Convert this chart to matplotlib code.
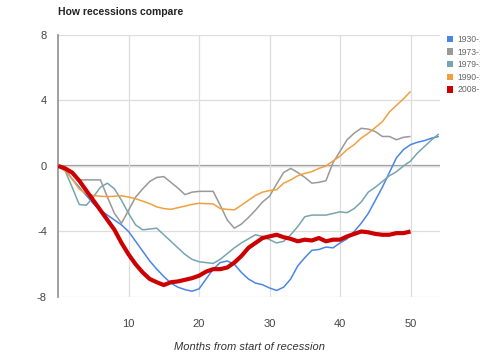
import matplotlib
matplotlib.use("Agg")
import matplotlib.pyplot as plt
from matplotlib.patches import Patch

plt.rcParams['font.family'] = ['Liberation Sans', 'DejaVu Sans']
plt.rcParams['axes.unicode_minus'] = False

# values (months from start of recession)
labels = ['1930-1933', '1973-1975', '1979-1982', '1990-1991', '2008-']
colors = ['#4a86e8', '#999999', '#76a5af', '#f1a03f', '#cc0000']

s1930 = [0, -0.2, -0.8, -1.3, -1.8, -2.3, -2.7, -3.0, -3.3, -3.6, -4.0, -4.6, -5.2, -5.8,
         -6.3, -6.75, -7.15, -7.4, -7.55, -7.65, -7.5, -6.9, -6.3, -5.9, -5.8, -6.0, -6.5,
         -6.9, -7.15, -7.25, -7.45, -7.6, -7.4, -6.9, -6.1, -5.6, -5.15, -5.1, -4.95, -5.0,
         -4.7, -4.45, -4.0, -3.5, -2.9, -2.1, -1.3, -0.4, 0.5, 1.0, 1.3, 1.45, 1.55, 1.7, 1.8]
s1973 = [0, -0.2, -0.5, -0.85, -0.85, -0.85, -0.85, -1.9, -2.9, -3.5, -2.7, -1.9, -1.4,
         -0.95, -0.7, -0.65, -1.0, -1.35, -1.75, -1.6, -1.55, -1.55, -1.55, -2.4, -3.3, -3.8,
         -3.55, -3.15, -2.7, -2.2, -1.85, -1.1, -0.4, -0.15, -0.4, -0.7, -1.05, -1.0, -0.9,
         0.2, 0.9, 1.6, 2.0, 2.3, 2.25, 2.1, 1.8, 1.8, 1.6, 1.75, 1.8]
s1979 = [0, -0.3, -1.3, -2.35, -2.4, -1.9, -1.3, -1.05, -1.4, -2.1, -2.9, -3.6, -3.9, -3.85,
         -3.8, -4.2, -4.6, -5.0, -5.4, -5.7, -5.85, -5.9, -5.95, -5.7, -5.35, -5.0, -4.7,
         -4.45, -4.2, -4.3, -4.5, -4.7, -4.6, -4.2, -3.7, -3.1, -3.0, -3.0, -3.0, -2.9, -2.8,
         -2.85, -2.6, -2.2, -1.6, -1.3, -0.95, -0.6, -0.35, 0.0, 0.3, 0.8, 1.2, 1.6, 1.95]
s1990 = [0, -0.3, -0.8, -1.4, -1.7, -1.8, -1.85, -1.87, -1.85, -1.82, -1.9, -2.0, -2.15,
         -2.3, -2.5, -2.6, -2.65, -2.55, -2.45, -2.35, -2.28, -2.3, -2.32, -2.6, -2.65, -2.68,
         -2.4, -2.1, -1.8, -1.6, -1.5, -1.45, -1.05, -0.85, -0.6, -0.45, -0.35, -0.15, 0.0,
         0.3, 0.6, 1.0, 1.3, 1.7, 2.0, 2.35, 2.7, 3.3, 3.7, 4.1, 4.55]
s2008 = [0, -0.15, -0.4, -0.9, -1.5, -2.1, -2.7, -3.3, -3.9, -4.7, -5.4, -6.0, -6.5, -6.9,
         -7.1, -7.27, -7.1, -7.05, -6.95, -6.85, -6.7, -6.45, -6.3, -6.3, -6.2, -5.9, -5.5,
         -5.0, -4.7, -4.4, -4.3, -4.2, -4.35, -4.45, -4.6, -4.5, -4.55, -4.4, -4.6, -4.5,
         -4.5, -4.3, -4.15, -4.0, -4.05, -4.15, -4.2, -4.2, -4.1, -4.1, -4.0]
series = [s1930, s1973, s1979, s1990, s2008]

fig = plt.figure(figsize=(4.8, 3.6), dpi=100)
ax = fig.add_axes([0.121, 0.175, 0.796, 0.728])

ax.axhline(0, color='#999999', lw=1.6, zorder=1)
for s, c, lab in zip(series, colors, labels):
    lw = 3.0 if lab == '2008-' else 1.1
    ax.plot(range(len(s)), s, color=c, lw=lw, zorder=3 if lab == '2008-' else 2,
            solid_capstyle='butt')

ax.set_xlim(0, 54.2)
ax.set_ylim(-8, 8)
ax.set_xticks([10, 20, 30, 40, 50])
ax.set_yticks([-8, -4, 0, 4, 8])
ax.grid(True, color='#dddddd', lw=0.9, zorder=0)
for side in ['top', 'right', 'bottom']:
    ax.spines[side].set_visible(False)
ax.spines['left'].set_color('#999999')
ax.spines['left'].set_linewidth(1.3)
ax.tick_params(length=0, labelsize=8, colors='#444444')
ax.tick_params(axis='x', pad=16)
ax.tick_params(axis='y', pad=8)

fig.text(0.121, 0.968, 'How recessions compare', fontsize=7.5, fontweight='bold',
         color='#222222', va='center')
fig.text(0.519, 0.036, 'Months from start of recession', fontsize=8, style='italic',
         color='#333333', ha='center', va='center')

# legend runs off the right edge, as in the reference
handles = [Patch(facecolor=c, edgecolor='none') for c in colors]
fig.legend(handles, labels, loc='upper left', bbox_to_anchor=(0.931, 0.903),
           frameon=False, fontsize=6.2, handlelength=0.75, handleheight=0.75,
           handletextpad=0.5, labelspacing=0.42, borderpad=0, borderaxespad=0,
           labelcolor='#666666')

fig.savefig('out.png', dpi=100)
